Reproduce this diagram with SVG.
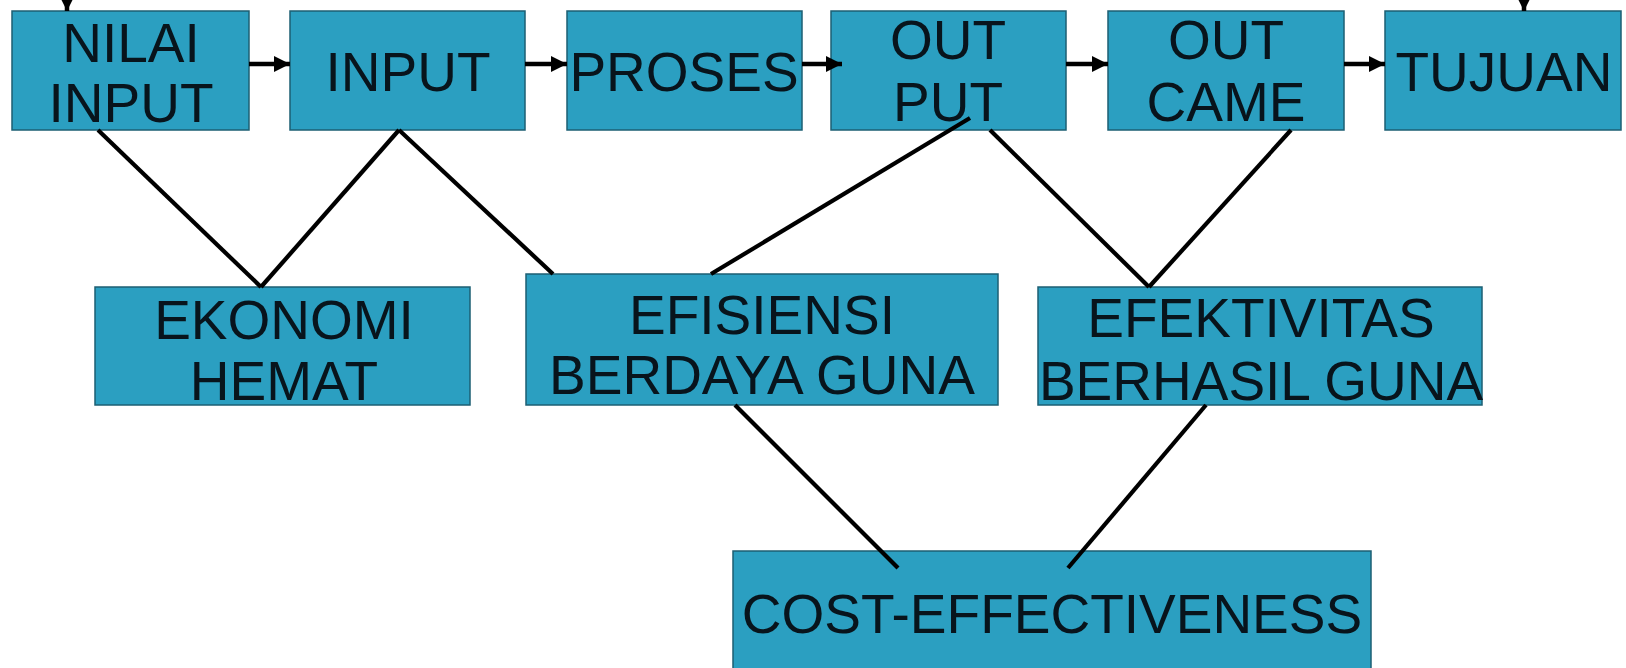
<svg xmlns="http://www.w3.org/2000/svg" width="1626" height="668" viewBox="0 0 1626 668">
<style>
.box{fill:#2b9fc1;stroke:#1d5f73;stroke-width:1.5}
.t{font-family:"Liberation Sans",Arial,sans-serif;font-size:55px;fill:#08141c;text-anchor:middle}
.ln{stroke:#000;stroke-width:4.2;fill:none}
.ar{stroke:#000;stroke-width:4.5;fill:none;marker-end:url(#ah)}
</style>
<defs>
<marker id="ah" viewBox="0 0 10 10" refX="10" refY="5" markerWidth="3.6" markerHeight="3.6" markerUnits="strokeWidth" orient="auto">
<path d="M0,0 L10,5 L0,10 z" fill="#000"/>
</marker>
</defs>
<rect width="1626" height="668" fill="#fff"/>
<g id="n-nilai-input"><rect class="box" x="12" y="11" width="237" height="119"/><text class="t" x="131" y="62">NILAI</text><text class="t" x="131" y="122">INPUT</text></g>
<g id="n-input"><rect class="box" x="290" y="11" width="235" height="119"/><text class="t" x="408" y="91">INPUT</text></g>
<g id="n-proses"><rect class="box" x="567" y="11" width="235" height="119"/><text class="t" x="684" y="91">PROSES</text></g>
<g id="n-output"><rect class="box" x="831" y="11" width="235" height="119"/><text class="t" x="948" y="59">OUT</text><text class="t" x="948" y="121">PUT</text></g>
<g id="n-outcame"><rect class="box" x="1108" y="11" width="236" height="119"/><text class="t" x="1226" y="59">OUT</text><text class="t" x="1226" y="121">CAME</text></g>
<g id="n-tujuan"><rect class="box" x="1385" y="11" width="236" height="119"/><text class="t" x="1504" y="91">TUJUAN</text></g>
<g id="n-ekonomi"><rect class="box" x="95" y="287" width="375" height="118"/><text class="t" x="284" y="339">EKONOMI</text><text class="t" x="284" y="400">HEMAT</text></g>
<g id="n-efisiensi"><rect class="box" x="526" y="274" width="472" height="131"/><text class="t" x="762" y="334">EFISIENSI</text><text class="t" x="762" y="394">BERDAYA GUNA</text></g>
<g id="n-efektivitas"><rect class="box" x="1038" y="287" width="444" height="118"/><text class="t" x="1261" y="337">EFEKTIVITAS</text><text class="t" x="1261" y="400">BERHASIL GUNA</text></g>
<g id="n-cost"><rect class="box" x="733" y="551" width="638" height="120"/><text class="t" x="1052" y="633">COST-EFFECTIVENESS</text></g>
<g id="connectors">
<line class="ar" x1="249" y1="64" x2="290" y2="64"/>
<line class="ar" x1="525" y1="64" x2="567" y2="64"/>
<line class="ar" x1="802" y1="64" x2="842" y2="64"/>
<line class="ar" x1="1066" y1="64" x2="1108" y2="64"/>
<line class="ar" x1="1344" y1="64" x2="1385" y2="64"/>
<line class="ar" x1="67" y1="-10" x2="67" y2="11"/>
<line class="ar" x1="1524" y1="-10" x2="1524" y2="11"/>
<line class="ln" x1="98" y1="130" x2="261" y2="287"/>
<line class="ln" x1="399" y1="130" x2="261" y2="287"/>
<line class="ln" x1="399" y1="130" x2="553" y2="274"/>
<line class="ln" x1="970" y1="118" x2="711" y2="274"/>
<line class="ln" x1="990" y1="130" x2="1149" y2="287"/>
<line class="ln" x1="1291" y1="130" x2="1149" y2="287"/>
<line class="ln" x1="735" y1="405" x2="898" y2="568"/>
<line class="ln" x1="1206" y1="405" x2="1068" y2="568"/>
</g>
</svg>
